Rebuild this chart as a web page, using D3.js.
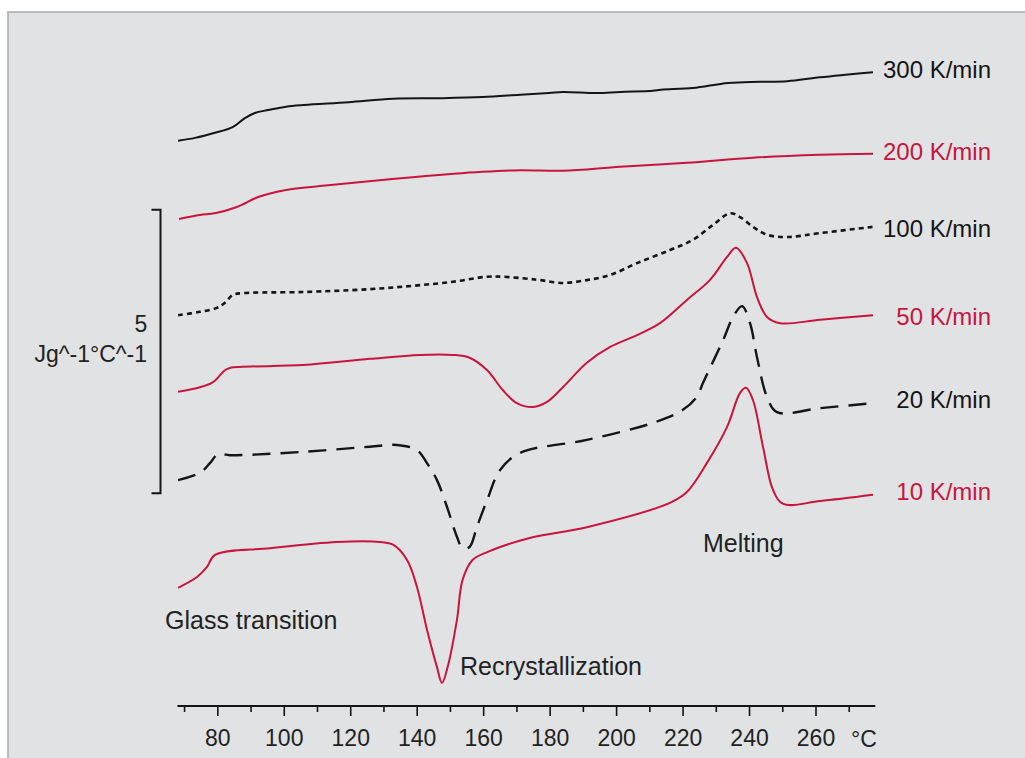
<!DOCTYPE html>
<html>
<head>
<meta charset="utf-8">
<script src="https://cdn.jsdelivr.net/npm/d3@7"></script>
<style>
  html, body { margin: 0; padding: 0; background: #ffffff; }
  svg { display: block; }
  text { font-family: "Liberation Sans", Arial, Helvetica, sans-serif; }
</style>
</head>
<body>
<svg id="chart" width="1025" height="758"></svg>
<script>
// DSC heating curves of one polymer at six heating rates (curves offset vertically).
// Temperature in °C, heat flow in J g^-1 °C^-1 (offset included).

const temps300 = [68.2, 73.3, 79.3, 84.6, 88.3, 91.3, 95.3, 100.7, 106.1, 119.5, 132.9, 147.0, 159.8, 171.1, 179.8, 184.0, 194.2, 201.2, 211.1, 213.5, 223.1, 233.7, 243.3, 251.5, 261.4, 277.3];
const heat300  = [9.87, 9.92, 10.01, 10.11, 10.27, 10.36, 10.41, 10.47, 10.50, 10.55, 10.61, 10.62, 10.64, 10.68, 10.71, 10.73, 10.71, 10.73, 10.75, 10.77, 10.80, 10.89, 10.91, 10.92, 10.99, 11.08];

const temps200 = [68.5, 74.8, 79.2, 85.9, 92.5, 100.7, 110.9, 119.5, 139.6, 159.8, 171.1, 184.0, 201.2, 221.3, 241.2, 261.4, 277.3];
const heat200  = [8.49, 8.56, 8.59, 8.70, 8.88, 9.00, 9.07, 9.12, 9.23, 9.32, 9.35, 9.34, 9.41, 9.48, 9.57, 9.62, 9.64];

const temps100 = [68.2, 74.8, 79.9, 82.3, 84.7, 87.7, 105.8, 125.9, 138.9, 150.9, 161.2, 165.9, 174.0, 177.1, 184.0, 191.2, 198.2, 206.3, 216.2, 223.1, 229.1, 234.3, 237.3, 241.2, 245.4, 251.5, 261.4, 277.3];
const heat100  = [6.79, 6.85, 6.92, 7.01, 7.15, 7.18, 7.20, 7.25, 7.31, 7.38, 7.47, 7.47, 7.43, 7.41, 7.36, 7.41, 7.50, 7.71, 7.94, 8.12, 8.38, 8.59, 8.52, 8.35, 8.21, 8.17, 8.24, 8.35];

const temps50 = [68.2, 74.8, 78.7, 82.3, 83.8, 105.8, 125.9, 141.0, 150.9, 155.9, 161.2, 165.9, 170.1, 175.0, 179.2, 184.0, 191.2, 198.2, 206.3, 213.2, 221.3, 228.2, 233.4, 236.1, 239.4, 242.4, 245.4, 249.3, 261.4, 277.3];
const heat50  = [5.44, 5.52, 5.61, 5.82, 5.86, 5.91, 6.02, 6.09, 6.09, 6.04, 5.82, 5.47, 5.24, 5.17, 5.26, 5.52, 5.95, 6.23, 6.44, 6.65, 7.06, 7.41, 7.82, 7.98, 7.71, 7.11, 6.76, 6.65, 6.71, 6.79];

const temps20 = [68.2, 74.8, 77.8, 80.2, 83.8, 105.8, 125.9, 134.1, 140.1, 143.1, 146.1, 149.1, 152.1, 153.8, 155.9, 158.1, 161.2, 165.1, 171.1, 191.2, 211.1, 220.1, 224.3, 226.1, 232.2, 235.2, 237.9, 240.3, 242.4, 245.4, 248.4, 261.4, 277.3];
const heat20  = [3.88, 4.01, 4.18, 4.34, 4.32, 4.38, 4.47, 4.50, 4.41, 4.18, 3.88, 3.41, 2.88, 2.68, 2.70, 3.05, 3.53, 4.06, 4.36, 4.59, 4.89, 5.12, 5.35, 5.59, 6.35, 6.76, 6.95, 6.65, 6.05, 5.35, 5.08, 5.15, 5.24];

const temps10 = [68.2, 73.9, 76.9, 79.3, 95.9, 116.0, 128.9, 132.9, 137.1, 140.1, 143.1, 146.1, 147.6, 149.3, 152.1, 153.8, 156.8, 161.2, 174.0, 191.2, 216.2, 221.3, 227.3, 233.4, 237.3, 239.1, 241.2, 244.2, 247.2, 250.3, 261.4, 277.3];
const heat10  = [1.98, 2.17, 2.35, 2.56, 2.68, 2.79, 2.79, 2.74, 2.47, 1.99, 1.24, 0.58, 0.30, 0.58, 1.41, 2.12, 2.47, 2.61, 2.86, 3.05, 3.48, 3.67, 4.18, 4.82, 5.42, 5.51, 5.29, 4.47, 3.71, 3.46, 3.51, 3.62];

const rateLabels = ["300 K/min", "200 K/min", "100 K/min", "50 K/min", "20 K/min", "10 K/min"];
const tickValues = [80, 100, 120, 140, 160, 180, 200, 220, 240, 260];
const minorTickValues = [70, 90, 110, 130, 150, 170, 190, 210, 230, 250, 270];

// 5 J g^-1 °C^-1 scale bar, starting at this heat-flow level
const scaleBarStart = 3.65;
const scaleBarSpan = 5;

const RED = "#c8153e";
const INK = "#151515";

const seriesStyles = [
  { color: INK, dash: null,   width: 2.0, labelColor: INK },
  { color: RED, dash: null,   width: 2.0, labelColor: RED },
  { color: INK, dash: "5,4",  width: 2.6, labelColor: INK },
  { color: RED, dash: null,   width: 2.0, labelColor: RED },
  { color: INK, dash: "18,10", width: 2.4, labelColor: INK },
  { color: RED, dash: null,   width: 2.0, labelColor: RED }
];

const series = [
  [temps300, heat300], [temps200, heat200], [temps100, heat100],
  [temps50, heat50], [temps20, heat20], [temps10, heat10]
].map(([t, h], i) => ({
  label: rateLabels[i],
  style: seriesStyles[i],
  points: t.map((d, j) => ({ t: d, v: h[j] }))
}));

const svg = d3.select("#chart");

// panel background
svg.append("rect")
  .attr("x", 8).attr("y", 12)
  .attr("width", 1030).attr("height", 760)
  .attr("fill", "#e1e2e4")
  .attr("stroke", "#a9a9ab").attr("stroke-width", 1.5);

const x = d3.scaleLinear().domain([80, 260]).range([217.3, 815.5]);
const y = d3.scaleLinear().domain([0, 12]).range([700, 20]);

// temperature axis
const axisY = 706;
svg.append("line")
  .attr("x1", x(68)).attr("x2", x(278))
  .attr("y1", axisY).attr("y2", axisY)
  .attr("stroke", INK).attr("stroke-width", 2);

const axisMajor = d3.axisBottom(x).tickValues(tickValues).tickSize(10).tickSizeOuter(0).tickPadding(14);
const gAxis = svg.append("g").attr("transform", `translate(0,${axisY})`).call(axisMajor);
gAxis.select(".domain").remove();
gAxis.selectAll(".tick line").attr("stroke", INK).attr("stroke-width", 1.6);
gAxis.selectAll(".tick text")
  .attr("fill", "#222").attr("font-size", 23)
  .attr("font-family", "Liberation Sans, Arial, sans-serif");

const axisMinor = d3.axisBottom(x).tickValues(minorTickValues).tickSize(6).tickFormat("");
const gMinor = svg.append("g").attr("transform", `translate(0,${axisY})`).call(axisMinor);
gMinor.select(".domain").remove();
gMinor.selectAll(".tick line").attr("stroke", INK).attr("stroke-width", 1.6);

svg.append("text")
  .attr("x", 864).attr("y", 747)
  .attr("text-anchor", "middle")
  .attr("font-size", 23).attr("fill", "#222")
  .text("°C");

// curves
const line = d3.line()
  .x(d => x(d.t))
  .y(d => y(d.v))
  .curve(d3.curveCatmullRom.alpha(0.5));

svg.append("g").selectAll("path")
  .data(series)
  .join("path")
  .attr("d", d => line(d.points))
  .attr("fill", "none")
  .attr("stroke", d => d.style.color)
  .attr("stroke-width", d => d.style.width)
  .attr("stroke-dasharray", d => d.style.dash)
  .attr("stroke-linejoin", "round")
  .attr("stroke-linecap", "butt");

// heating-rate labels, right-aligned beside the curve ends
const labelBaselines = [78, 160, 237, 325, 408, 500];
svg.append("g").selectAll("text")
  .data(series)
  .join("text")
  .attr("x", 991)
  .attr("y", (d, i) => labelBaselines[i])
  .attr("text-anchor", "end")
  .attr("font-size", 24)
  .attr("fill", d => d.style.labelColor)
  .text(d => d.label);

// vertical scale bar
const barX = 160.5;
const barTop = y(scaleBarStart + scaleBarSpan);
const barBottom = y(scaleBarStart);
svg.append("path")
  .attr("d", `M${barX - 9},${barTop} H${barX} V${barBottom} H${barX - 9}`)
  .attr("fill", "none").attr("stroke", INK).attr("stroke-width", 2);

svg.append("text")
  .attr("x", 141).attr("y", 332)
  .attr("text-anchor", "middle")
  .attr("font-size", 23).attr("fill", "#222")
  .text(scaleBarSpan);
svg.append("text")
  .attr("x", 147).attr("y", 362)
  .attr("text-anchor", "end")
  .attr("font-size", 23).attr("fill", "#222")
  .text("Jg^-1°C^-1");

// transition annotations
const notes = [
  { text: "Glass transition", x: 165, y: 629 },
  { text: "Recrystallization", x: 460, y: 675 },
  { text: "Melting", x: 703, y: 552 }
];
svg.append("g").selectAll("text")
  .data(notes)
  .join("text")
  .attr("x", d => d.x).attr("y", d => d.y)
  .attr("font-size", 25).attr("fill", "#222")
  .text(d => d.text);
</script>
</body>
</html>
